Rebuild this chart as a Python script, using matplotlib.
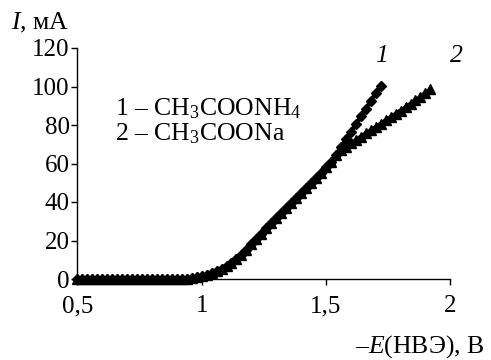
import matplotlib
matplotlib.use('Agg')
import matplotlib.pyplot as plt
from matplotlib.ticker import FixedLocator, FixedFormatter

plt.rcParams['font.family'] = ['Liberation Serif', 'DejaVu Serif']
plt.rcParams['mathtext.fontset'] = 'custom'
plt.rcParams['mathtext.rm'] = 'Liberation Serif'
plt.rcParams['mathtext.it'] = 'Liberation Serif:italic'

# потенциал, В (общая часть обеих кривых)
e_common = [0.50, 0.52, 0.54, 0.56, 0.58, 0.60, 0.62, 0.64, 0.66, 0.68,
            0.70, 0.72, 0.74, 0.76, 0.78, 0.80, 0.82, 0.84, 0.86, 0.88,
            0.90, 0.92, 0.94, 0.96, 0.98, 1.00, 1.02, 1.04, 1.06, 1.08,
            1.10, 1.12, 1.14, 1.16, 1.18, 1.20, 1.22, 1.24, 1.26, 1.28,
            1.30, 1.32, 1.34, 1.36, 1.38, 1.40, 1.42, 1.44, 1.46, 1.48,
            1.50, 1.52, 1.54]
i_common = [0, 0, 0, 0, 0, 0, 0, 0, 0, 0,
            0, 0, 0, 0, 0, 0, 0, 0, 0, 0,
            0, 0, 0, 0.3, 0.8, 1.5, 2.3, 3.2, 4.2, 5.4,
            6.8, 8.4, 10.2, 12.4, 15.2, 18.0, 20.8, 23.6, 26.4, 29.0,
            31.7, 34.4, 37.0, 39.6, 42.2, 44.8, 47.3, 49.8, 52.5, 55.2,
            58.0, 61.0, 64.5]

# 1 - CH3COONH4
e1_tail = [1.56, 1.58, 1.60, 1.62, 1.64, 1.66, 1.68, 1.70, 1.72]
i1_tail = [68.5, 72.5, 76.5, 80.5, 84.5, 88.5, 92.5, 96.5, 100.5]

# 2 - CH3COONa
e2_tail = [1.56, 1.58, 1.60, 1.62, 1.64, 1.66, 1.68, 1.70, 1.72, 1.74,
           1.76, 1.78, 1.80, 1.82, 1.84, 1.86, 1.88, 1.90, 1.92]
i2_tail = [67.0, 68.8, 70.5, 72.2, 73.9, 75.6, 77.3, 79.0, 80.7, 82.4,
           84.1, 85.8, 87.5, 89.2, 91.0, 92.8, 94.7, 96.6, 98.5]

x_ticks = [0.5, 1.0, 1.5, 2.0]
x_labels = ['0,5', '1', '1,5', '2']
y_ticks = [0, 20, 40, 60, 80, 100, 120]

W, H = 491, 360
fig = plt.figure(figsize=(W / 100, H / 100), dpi=100)
ax = fig.add_axes([77.3 / W, 1 - 279 / H, 373 / W, 231 / H])

ax.plot(e_common + e1_tail, i_common + i1_tail, color='black', lw=3,
        marker='D', ms=5.5, mec='black', mfc='black', clip_on=False, zorder=3)
ax.plot(e_common + e2_tail, i_common + i2_tail, color='black', lw=3,
        marker='^', ms=6.5, mec='black', mfc='black', clip_on=False, zorder=3)

ax.set_xlim(0.5, 2.0)
ax.set_ylim(0, 120)
ax.xaxis.set_major_locator(FixedLocator(x_ticks))
ax.xaxis.set_major_formatter(FixedFormatter(x_labels))
ax.set_yticks(y_ticks)

for s in ['top', 'right']:
    ax.spines[s].set_visible(False)
for s in ['left', 'bottom']:
    ax.spines[s].set_linewidth(1.0)
ax.tick_params(direction='out', length=4.5, width=1.0, labelsize=18)
ax.tick_params(axis='y', pad=1)
ax.tick_params(axis='x', pad=7)

fs = 18.5
fig.text(11 / W, 1 - 29 / H, '$I$, мА', fontsize=fs, ha='left', va='baseline')
fig.text(484 / W, 1 - 353 / H, '–$E$(НВЭ), В', fontsize=fs, ha='right', va='baseline')
fig.text(115 / W, 1 - 115 / H, '$\\mathit{1}$ – CH$_3$COONH$_4$', fontsize=fs, va='baseline')
fig.text(115 / W, 1 - 140 / H, '$\\mathit{2}$ – CH$_3$COONa', fontsize=fs, va='baseline')
fig.text(382 / W, 1 - 62 / H, '1', fontsize=fs, style='italic', ha='center', va='baseline')
fig.text(456 / W, 1 - 62 / H, '2', fontsize=fs, style='italic', ha='center', va='baseline')

fig.savefig('out.png', dpi=100)
